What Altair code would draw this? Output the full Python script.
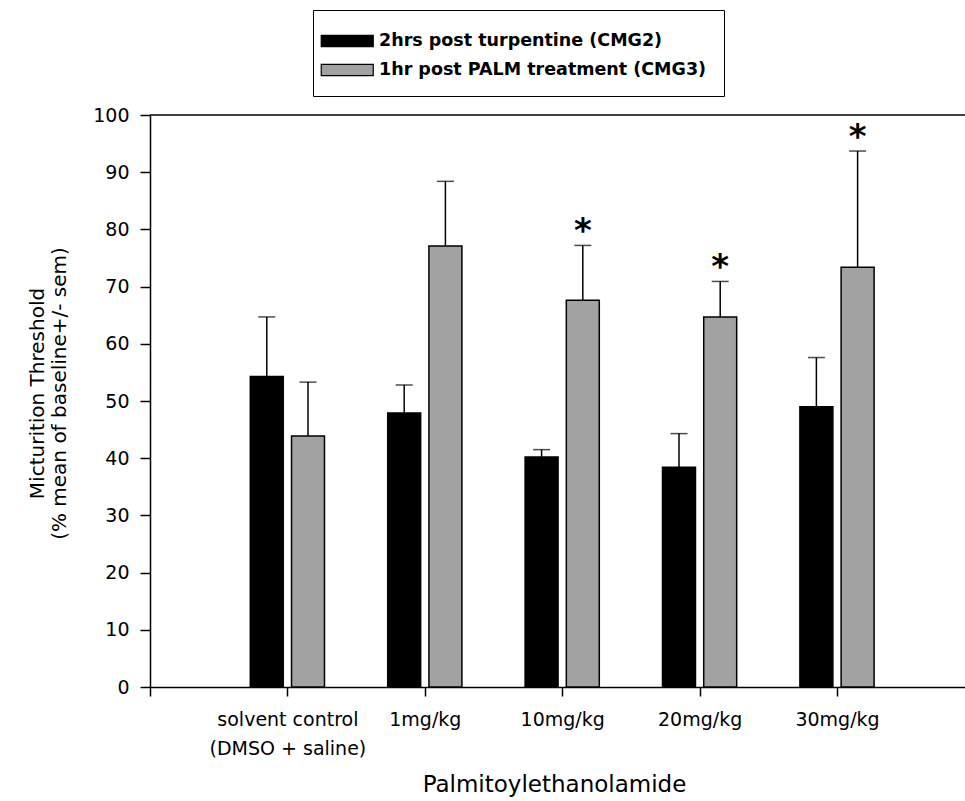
import altair as alt
import pandas as pd

# ---- data ----
categories = ["solvent control|(DMSO + saline)", "1mg/kg", "10mg/kg", "20mg/kg", "30mg/kg"]
series = ["2hrs post turpentine (CMG2)", "1hr post PALM treatment (CMG3)"]
cmg2_mean = [54.3, 47.9, 40.2, 38.4, 49.0]
cmg2_sem = [10.4, 4.9, 1.3, 5.9, 8.6]
cmg3_mean = [43.9, 77.1, 67.6, 64.7, 73.4]
cmg3_sem = [9.4, 11.3, 9.6, 6.2, 20.3]
cmg3_sig = [False, False, True, True, True]
y_ticks = list(range(0, 101, 10))

rows = []
for i, cat in enumerate(categories):
    rows.append(dict(cat=cat, pos=i + 1, series=series[0], mean=cmg2_mean[i], sem=cmg2_sem[i], sig=False))
    rows.append(dict(cat=cat, pos=i + 1, series=series[1], mean=cmg3_mean[i], sem=cmg3_sem[i], sig=cmg3_sig[i]))
df = pd.DataFrame(rows)

FONT = "DejaVu Sans"
OFF = 0.15   # group offset of each bar (x units)
HALF = 0.12  # half bar width (x units)

label_arr = "[" + ",".join(["''"] + ["'" + c + "'" for c in categories]) + "]"
label_expr = f"split({label_arr}[datum.value], '|')"

xscale = alt.Scale(domain=[0, 815 / 137.4], nice=False, zero=False)
yscale = alt.Scale(domain=[0, 100], nice=False)

base = alt.Chart(df).transform_calculate(
    cx=f"datum.pos + (datum.series == '{series[0]}' ? -{OFF} : {OFF})",
).transform_calculate(
    x0=f"datum.cx - {HALF}",
    x1=f"datum.cx + {HALF}",
    upper="datum.mean + datum.sem",
)

xaxis = alt.Axis(
    values=[0, 1, 2, 3, 4, 5],
    labelExpr=label_expr,
    title="Palmitoylethanolamide",
    titleFontSize=23,
    titleX=404,
    titleY=97,
    titleBaseline="middle",
    titleAlign="center",
    labelFontSize=19,
    labelPadding=14,
    labelLineHeight=29,
    labelOverlap=False,
    labelFlush=False,
    tickSize=9,
    grid=False,
)
yaxis = alt.Axis(
    values=y_ticks,
    title=["Micturition Threshold", "(%  mean of baseline+/- sem)"],
    titleFontSize=20,
    titleX=-123,
    titleY=278,
    titleAlign="center",
    titleBaseline="top",
    titleLineHeight=22,
    titleAngle=270,
    labelFontSize=19,
    labelPadding=11,
    tickSize=10,
    grid=False,
)

bars = base.mark_bar(stroke="black", strokeWidth=1.5).encode(
    x=alt.X("x0:Q", scale=xscale, axis=xaxis),
    x2="x1:Q",
    y=alt.Y("mean:Q", scale=yscale, axis=yaxis),
    y2=alt.datum(0),
    color=alt.Color(
        "series:N",
        scale=alt.Scale(domain=series, range=["#000000", "#a2a2a2"]),
        legend=alt.Legend(
            title=None,
            orient="none",
            legendX=163,
            legendY=-105,
            strokeColor="black",
            fillColor="white",
            padding=17,
            rowPadding=6,
            symbolType="M-1.75,-0.44H2.25V0.44H-1.75Z",
            symbolSize=676,
            symbolStrokeColor="black",
            symbolStrokeWidth=1.2,
            symbolOpacity=1,
            labelFont=FONT,
            labelFontSize=17.5,
            labelFontWeight="bold",
            labelColor="black",
            labelOffset=21,
            labelLimit=500,
        ),
    ),
)

err = base.mark_rule(color="black", strokeWidth=1.5).encode(
    x="cx:Q", y="mean:Q", y2="upper:Q"
)
caps = base.mark_tick(color="black", orient="horizontal", size=17, thickness=1.5).encode(
    x="cx:Q", y="upper:Q"
)
stars = base.transform_filter("datum.sig").mark_text(
    text="*", font=FONT, fontSize=34, fontWeight="bold", baseline="alphabetic", dy=-3, color="black"
).encode(x="cx:Q", y="upper:Q")

top_frame = alt.Chart(pd.DataFrame({"top": [100]})).mark_rule(color="black", strokeWidth=1.5).encode(
    y=alt.Y("top:Q", scale=yscale)
)

chart = alt.layer(bars, err, caps, stars, top_frame).properties(
    width=815,
    height=572,
    background="white",
    autosize=alt.AutoSizeParams(type="none"),
    padding={"left": 150, "top": 115, "right": 0, "bottom": 114},
).configure_view(stroke=None).configure_axis(
    grid=False,
    domainColor="black",
    domainWidth=1.5,
    tickColor="black",
    tickWidth=1.5,
    labelColor="black",
    titleColor="black",
    labelFont=FONT,
    titleFont=FONT,
    titleFontWeight="normal",
)

chart.save("out.html", embed_options={"renderer": "svg", "actions": False})
